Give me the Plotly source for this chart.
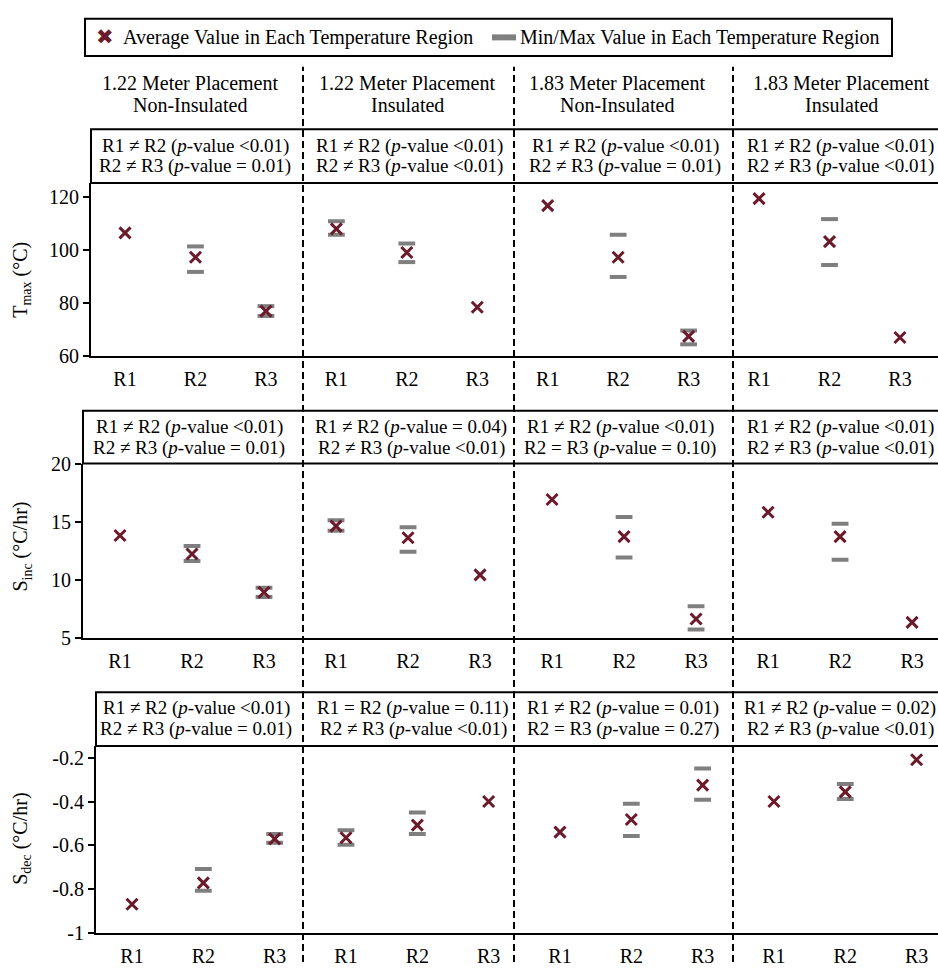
import plotly.graph_objects as go

W, H = 938, 973

categories = ["R1", "R2", "R3"]
panel_line1 = ["1.22 Meter Placement", "1.22 Meter Placement", "1.83 Meter Placement", "1.83 Meter Placement"]
panel_line2 = ["Non-Insulated", "Insulated", "Non-Insulated", "Insulated"]

# T_max (°C)
tmax_avg = [106.4, 97.2, 76.9, 107.9, 99.0, 78.4, 116.7, 97.2, 67.4, 119.3, 103.1, 67.0]
tmax_min = [None, 91.7, 75.1, 105.7, 95.4, None, None, 89.8, 64.4, None, 94.3, None]
tmax_max = [None, 101.3, 78.8, 110.8, 102.4, None, None, 105.7, 69.6, None, 111.6, None]

# S_inc (°C/hr)
sinc_avg = [13.8, 12.2, 8.9, 14.6, 13.6, 10.4, 16.9, 13.7, 6.6, 15.8, 13.7, 6.3]
sinc_min = [None, 11.6, 8.5, 14.2, 12.4, None, None, 11.9, 5.7, None, 11.7, None]
sinc_max = [None, 12.9, 9.3, 15.1, 14.5, None, None, 15.4, 7.7, None, 14.8, None]

# S_dec (°C/hr)
sdec_avg = [-0.87, -0.772, -0.571, -0.566, -0.508, -0.40, -0.54, -0.482, -0.325, -0.40, -0.356, -0.209]
sdec_min = [None, -0.808, -0.589, -0.598, -0.549, None, None, -0.558, -0.392, None, -0.388, None]
sdec_max = [None, -0.709, -0.549, -0.531, -0.45, None, None, -0.41, -0.249, None, -0.32, None]

tmax_tests = [
    ["R1 ≠ R2 (<i>p</i>-value <0.01)", "R2 ≠ R3 (<i>p</i>-value = 0.01)"],
    ["R1 ≠ R2 (<i>p</i>-value <0.01)", "R2 ≠ R3 (<i>p</i>-value <0.01)"],
    ["R1 ≠ R2 (<i>p</i>-value <0.01)", "R2 ≠ R3 (<i>p</i>-value = 0.01)"],
    ["R1 ≠ R2 (<i>p</i>-value <0.01)", "R2 ≠ R3 (<i>p</i>-value <0.01)"],
]
sinc_tests = [
    ["R1 ≠ R2 (<i>p</i>-value <0.01)", "R2 ≠ R3 (<i>p</i>-value = 0.01)"],
    ["R1 ≠ R2 (<i>p</i>-value = 0.04)", "R2 ≠ R3 (<i>p</i>-value <0.01)"],
    ["R1 ≠ R2 (<i>p</i>-value <0.01)", "R2 = R3 (<i>p</i>-value = 0.10)"],
    ["R1 ≠ R2 (<i>p</i>-value <0.01)", "R2 ≠ R3 (<i>p</i>-value <0.01)"],
]
sdec_tests = [
    ["R1 ≠ R2 (<i>p</i>-value <0.01)", "R2 ≠ R3 (<i>p</i>-value = 0.01)"],
    ["R1 = R2 (<i>p</i>-value = 0.11)", "R2 ≠ R3 (<i>p</i>-value <0.01)"],
    ["R1 ≠ R2 (<i>p</i>-value = 0.01)", "R2 = R3 (<i>p</i>-value = 0.27)"],
    ["R1 ≠ R2 (<i>p</i>-value = 0.02)", "R2 ≠ R3 (<i>p</i>-value <0.01)"],
]
y_titles = ["T<sub>max</sub> (°C)", "S<sub>inc</sub> (°C/hr)", "S<sub>dec</sub> (°C/hr)"]
y_ticks = [[60, 80, 100, 120], [5, 10, 15, 20], [-1, -0.8, -0.6, -0.4, -0.2]]
y_ticktext = [["60", "80", "100", "120"], ["5", "10", "15", "20"], ["-1", "-0.8", "-0.6", "-0.4", "-0.2"]]
legend_labels = ["Average Value in Each Temperature Region", "Min/Max Value in Each Temperature Region"]

AVG_COLOR = "#6b1a2b"
BAR_COLOR = "#7f7f7f"
FONT = "Liberation Serif, Times New Roman, serif"

def px_x(p):
    return p / W

def px_y(p):
    return 1 - p / H

xlabels = categories * 4
xidx = list(range(len(xlabels)))

rows = [
    dict(avg=tmax_avg, mn=tmax_min, mx=tmax_max, tests=tmax_tests,
         left=91, top=176, bottom=353, boxtop=121, xr=[-0.483, 11.54], yr=[60, 125.2],
         test_y=[138, 159], test_x=[195, 409, 625, 840], title_y=275),
    dict(avg=sinc_avg, mn=sinc_min, mx=sinc_max, tests=sinc_tests,
         left=83, top=463, bottom=641, boxtop=409, xr=[-0.514, 11.36], yr=[5, 20],
         test_y=[426, 447], test_x=[189, 411, 620, 840], title_y=548),
    dict(avg=sdec_avg, mn=sdec_min, mx=sdec_max, tests=sdec_tests,
         left=96, top=752, bottom=943, boxtop=697, xr=[-0.505, 11.30], yr=[-1, -0.146],
         test_y=[713, 735], test_x=[196, 413, 623, 840], title_y=847),
]

fig = go.Figure()
shapes = []
annotations = []

for i, r in enumerate(rows):
    sfx = "" if i == 0 else str(i + 1)
    xa, ya = "x" + sfx, "y" + sfx
    for vals in (r["mn"], r["mx"]):
        fig.add_trace(go.Scatter(
            x=xidx, y=vals, xaxis=xa, yaxis=ya, mode="markers", showlegend=False,
            marker=dict(symbol="line-ew", size=12, color=BAR_COLOR,
                        line=dict(color=BAR_COLOR, width=4)),
            hoverinfo="y"))
    fig.add_trace(go.Scatter(
        x=xidx, y=r["avg"], xaxis=xa, yaxis=ya, mode="markers", showlegend=False,
        marker=dict(symbol="x-thin", size=11, color=AVG_COLOR,
                    line=dict(color=AVG_COLOR, width=3)),
        hoverinfo="y"))

    fig.update_layout({
        "xaxis" + sfx: dict(
            domain=[px_x(r["left"]), 1], range=r["xr"], anchor=ya,
            tickmode="array", tickvals=xidx, ticktext=xlabels,
            showline=True, linecolor="black", linewidth=2,
            ticks="outside", ticklen=4, tickcolor="rgba(0,0,0,0)",
            showgrid=False, zeroline=False,
            tickfont=dict(family=FONT, size=20, color="black")),
        "yaxis" + sfx: dict(
            domain=[px_y(r["bottom"]), px_y(r["top"])], range=r["yr"], anchor=xa,
            tickmode="array", tickvals=y_ticks[i], ticktext=y_ticktext[i],
            showline=True, linecolor="black", linewidth=2,
            ticks="outside", ticklen=6, tickwidth=2, tickcolor="black",
            showgrid=False, zeroline=False,
            tickfont=dict(family=FONT, size=20, color="black")),
    })

    # box holding the test results
    shapes.append(dict(type="rect", xref="paper", yref="paper",
                       x0=px_x(r["left"]), x1=1.01, y0=px_y(r["top"]), y1=px_y(r["boxtop"]),
                       line=dict(color="black", width=2), fillcolor="rgba(0,0,0,0)", layer="above"))
    for j, lines in enumerate(r["tests"]):
        for k, t in enumerate(lines):
            annotations.append(dict(xref="paper", yref="paper", x=px_x(r["test_x"][j]),
                                    y=px_y(r["test_y"][k]), text=t, showarrow=False,
                                    xanchor="center", yanchor="middle",
                                    font=dict(family=FONT, size=19, color="black")))
    annotations.append(dict(xref="paper", yref="paper", x=px_x(22), y=px_y(r["title_y"]),
                            text=y_titles[i], textangle=-90, showarrow=False,
                            xanchor="center", yanchor="middle",
                            font=dict(family=FONT, size=20, color="black")))

# panel titles
title_x = [190, 407, 617, 841]
for j in range(4):
    annotations.append(dict(xref="paper", yref="paper", x=px_x(title_x[j]), y=px_y(74),
                            text=panel_line1[j], showarrow=False, xanchor="center", yanchor="middle",
                            font=dict(family=FONT, size=20, color="black")))
    annotations.append(dict(xref="paper", yref="paper", x=px_x(title_x[j]), y=px_y(96),
                            text=panel_line2[j], showarrow=False, xanchor="center", yanchor="middle",
                            font=dict(family=FONT, size=20, color="black")))

# dashed panel separators
for sx in [303, 514, 733]:
    shapes.append(dict(type="line", xref="paper", yref="paper", x0=px_x(sx), x1=px_x(sx),
                       y0=0, y1=px_y(57), line=dict(color="black", width=2, dash="7px,4px"),
                       layer="above"))

# legend box and keys
shapes.append(dict(type="rect", xref="paper", yref="paper", x0=px_x(85), x1=px_x(892),
                   y0=px_y(46), y1=px_y(8), line=dict(color="black", width=2),
                   fillcolor="white", layer="above"))
shapes.append(dict(type="line", xref="paper", yref="paper", x0=px_x(492), x1=px_x(516),
                   y0=px_y(27), y1=px_y(27), line=dict(color=BAR_COLOR, width=6), layer="above"))
annotations.append(dict(xref="paper", yref="paper", x=px_x(105), y=px_y(27), text="✖",
                        showarrow=False, xanchor="center", yanchor="middle",
                        font=dict(family="DejaVu Sans", size=21, color=AVG_COLOR)))
annotations.append(dict(xref="paper", yref="paper", x=px_x(121), y=px_y(27), text=legend_labels[0],
                        showarrow=False, xanchor="left", yanchor="middle",
                        font=dict(family=FONT, size=20, color="black")))
annotations.append(dict(xref="paper", yref="paper", x=px_x(518), y=px_y(27), text=legend_labels[1],
                        showarrow=False, xanchor="left", yanchor="middle",
                        font=dict(family=FONT, size=20, color="black")))

fig.update_layout(
    width=W, height=H,
    margin=dict(l=0, r=0, t=0, b=0),
    paper_bgcolor="white", plot_bgcolor="white",
    shapes=shapes, annotations=annotations,
    showlegend=False,
    font=dict(family=FONT, color="black"),
)

fig.write_html(
    "out.html",
    config={"displayModeBar": False},
    post_script="document.body.style.margin='0';document.body.style.padding='0';document.body.style.overflow='hidden';",
)
